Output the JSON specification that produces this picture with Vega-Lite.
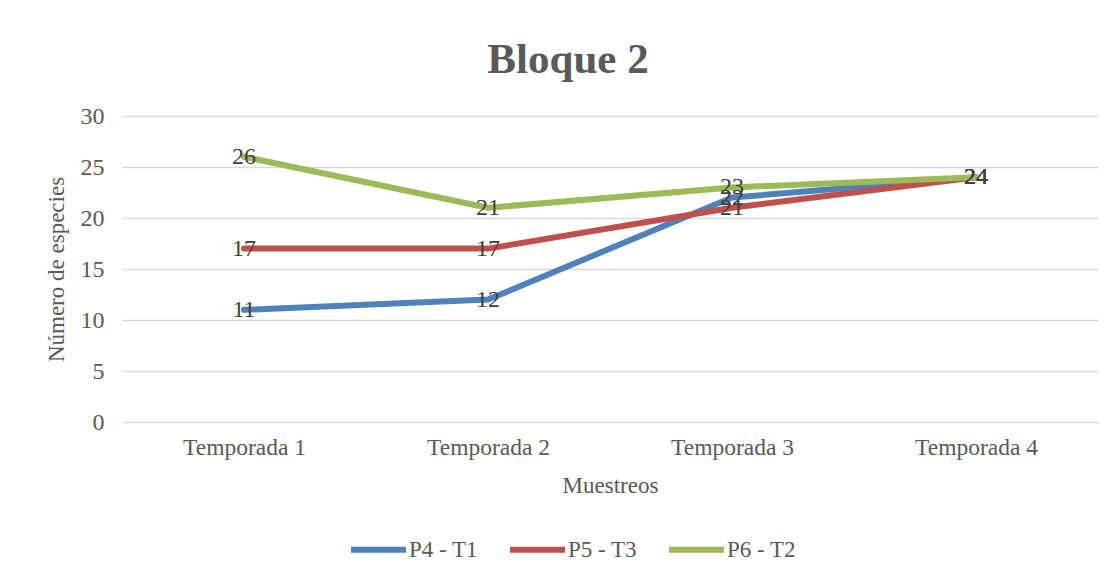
{
  "$schema": "https://vega.github.io/schema/vega-lite/v6.json",
  "width": 976,
  "height": 306,
  "autosize": {"type": "none"},
  "padding": {"left": 122, "top": 116, "right": 16, "bottom": 161},
  "background": "white",
  "title": {
    "text": "Bloque 2",
    "font": "Liberation Serif",
    "fontSize": 43,
    "fontWeight": "bold",
    "color": "#595959",
    "anchor": "middle",
    "dx": -42,
    "offset": 22
  },
  "config": {
    "view": {"stroke": null},
    "font": "Liberation Serif"
  },
  "data": {
    "values": [
      {"muestreo": "Temporada 1", "serie": "P4 - T1", "valor": 11},
      {"muestreo": "Temporada 2", "serie": "P4 - T1", "valor": 12},
      {"muestreo": "Temporada 3", "serie": "P4 - T1", "valor": 22},
      {"muestreo": "Temporada 4", "serie": "P4 - T1", "valor": 24},
      {"muestreo": "Temporada 1", "serie": "P5 - T3", "valor": 17},
      {"muestreo": "Temporada 2", "serie": "P5 - T3", "valor": 17},
      {"muestreo": "Temporada 3", "serie": "P5 - T3", "valor": 21},
      {"muestreo": "Temporada 4", "serie": "P5 - T3", "valor": 24},
      {"muestreo": "Temporada 1", "serie": "P6 - T2", "valor": 26},
      {"muestreo": "Temporada 2", "serie": "P6 - T2", "valor": 21},
      {"muestreo": "Temporada 3", "serie": "P6 - T2", "valor": 23},
      {"muestreo": "Temporada 4", "serie": "P6 - T2", "valor": 24}
    ]
  },
  "encoding": {
    "x": {
      "field": "muestreo",
      "type": "ordinal",
      "scale": {"type": "point", "padding": 0.5},
      "axis": {
        "title": "Muestreos",
        "titleFont": "Liberation Serif",
        "titleFontSize": 23,
        "titleFontWeight": "normal",
        "titleColor": "#595959",
        "titlePadding": 16,
        "labelFont": "Liberation Serif",
        "labelFontSize": 23.5,
        "labelColor": "#595959",
        "labelAngle": 0,
        "labelPadding": 13,
        "ticks": false,
        "domain": false,
        "grid": false
      }
    },
    "y": {
      "field": "valor",
      "type": "quantitative",
      "scale": {"domain": [0, 30], "nice": false},
      "axis": {
        "title": "Número de especies",
        "titleFont": "Liberation Serif",
        "titleFontSize": 23,
        "titleFontWeight": "normal",
        "titleColor": "#595959",
        "titlePadding": 12,
        "labelFont": "Liberation Serif",
        "labelFontSize": 24,
        "labelColor": "#595959",
        "labelPadding": 18,
        "values": [0, 5, 10, 15, 20, 25, 30],
        "ticks": false,
        "domain": false,
        "grid": true,
        "gridColor": "#d9d9d9",
        "gridWidth": 1.5
      }
    },
    "color": {
      "field": "serie",
      "type": "nominal",
      "scale": {
        "domain": ["P4 - T1", "P5 - T3", "P6 - T2"],
        "range": ["#4f81bd", "#c0504d", "#9bbb59"]
      },
      "legend": {
        "title": null,
        "orient": "none",
        "direction": "horizontal",
        "legendX": 226,
        "legendY": 403,
        "symbolType": "stroke",
        "symbolSize": 3025,
        "symbolStrokeWidth": 6,
        "labelFont": "Liberation Serif",
        "labelFontSize": 23,
        "labelColor": "#595959",
        "labelOffset": 0,
        "columnPadding": 20
      }
    }
  },
  "layer": [
    {
      "mark": {"type": "line", "interpolate": "linear", "strokeWidth": 6, "strokeCap": "round", "strokeJoin": "round"}
    },
    {
      "mark": {"type": "text", "fontSize": 24, "font": "Liberation Serif", "baseline": "middle", "align": "center", "color": "#404040"},
      "encoding": {
        "text": {"field": "valor", "type": "quantitative"},
        "color": {"value": "#404040"}
      }
    }
  ]
}
